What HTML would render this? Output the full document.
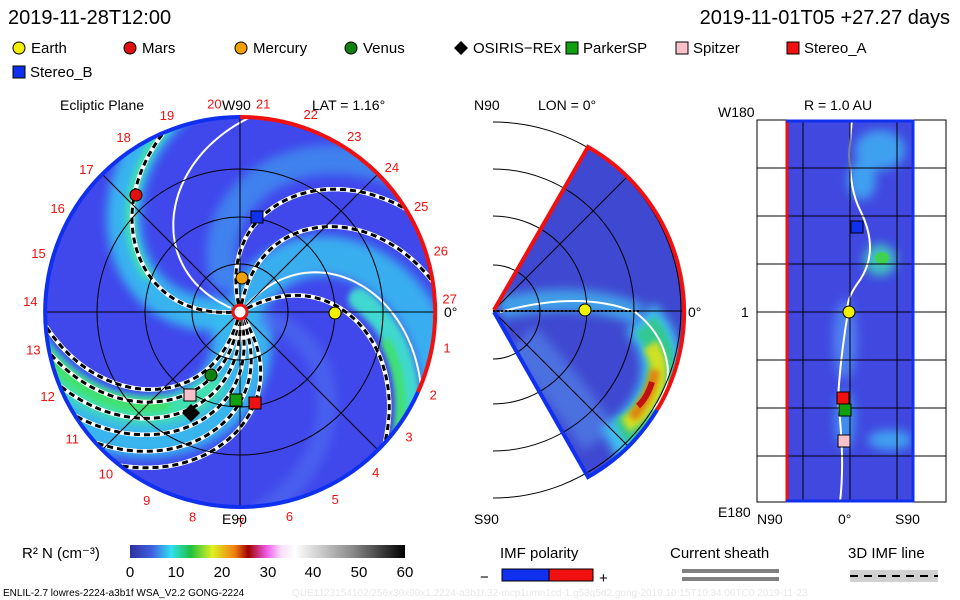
<!DOCTYPE html>
<html><head><meta charset="utf-8">
<style>
html,body{margin:0;padding:0;background:#fff;}
svg{display:block;font-family:"Liberation Sans",sans-serif;}
</style></head><body>
<svg id="s" width="960" height="600" viewBox="0 0 960 600" xmlns="http://www.w3.org/2000/svg">
<defs>
<clipPath id="cl"><circle cx="240" cy="312" r="195"/></clipPath>
<clipPath id="cw"><path d="M494,310 L588,147 A190,190 0 0 1 588,477 Z"/></clipPath>
<clipPath id="cr"><rect x="786" y="120" width="128" height="382"/></clipPath>
<filter id="bl" filterUnits="userSpaceOnUse" x="0" y="0" width="960" height="600"><feGaussianBlur stdDeviation="5"/></filter>
<filter id="bl2" filterUnits="userSpaceOnUse" x="0" y="0" width="960" height="600"><feGaussianBlur stdDeviation="3"/></filter>
<linearGradient id="cb" x1="0" x2="1">
<stop offset="0" stop-color="#3030a0"/><stop offset="0.08" stop-color="#4060e0"/><stop offset="0.15" stop-color="#30e0f0"/>
<stop offset="0.22" stop-color="#20c040"/><stop offset="0.3" stop-color="#e0f020"/><stop offset="0.38" stop-color="#f08010"/>
<stop offset="0.43" stop-color="#a00000"/><stop offset="0.5" stop-color="#f060f0"/><stop offset="0.55" stop-color="#f8e0f8"/>
<stop offset="0.6" stop-color="#ffffff"/><stop offset="0.8" stop-color="#909090"/><stop offset="1" stop-color="#000"/>
</linearGradient>
</defs>
<text x="8" y="24" font-size="20" fill="#000">2019-11-28T12:00</text>
<text x="950" y="24" font-size="20" text-anchor="end" fill="#000">2019-11-01T05 +27.27 days</text>
<g font-size="15">
<circle cx="19" cy="48" r="6" fill="#f0f000" stroke="#000"/><text x="31" y="53">Earth</text>
<circle cx="130" cy="48" r="6" fill="#e01010" stroke="#000"/><text x="142" y="53">Mars</text>
<circle cx="241" cy="48" r="6" fill="#f0a000" stroke="#000"/><text x="253" y="53">Mercury</text>
<circle cx="351" cy="48" r="6" fill="#108010" stroke="#000"/><text x="363" y="53">Venus</text>
<path d="M461,41 L468,48 L461,55 L454,48Z" fill="#000"/><text x="473" y="53">OSIRIS−REx</text>
<rect x="566" y="42" width="12" height="12" fill="#10a010" stroke="#000"/><text x="583" y="53">ParkerSP</text>
<rect x="676" y="42" width="12" height="12" fill="#f8c0c8" stroke="#000"/><text x="693" y="53">Spitzer</text>
<rect x="787" y="42" width="12" height="12" fill="#f01010" stroke="#000"/><text x="804" y="53">Stereo_A</text>
<rect x="13" y="66" width="12" height="12" fill="#1030f0" stroke="#000"/><text x="30" y="77">Stereo_B</text>
</g>
<!-- left panel -->
<g clip-path="url(#cl)">
<circle cx="240" cy="312" r="195" fill="#4048ec"/>
<g id="arms" fill="none" stroke-linecap="round"></g>
<g id="lines" fill="none"></g>
</g>
<g fill="none" stroke="#000" stroke-width="1">
<circle cx="240" cy="312" r="48"/><circle cx="240" cy="312" r="95"/><circle cx="240" cy="312" r="143"/>
<line x1="45" y1="312" x2="435" y2="312"/><line x1="240" y1="117" x2="240" y2="507"/>
<line x1="102" y1="174" x2="378" y2="450"/><line x1="102" y1="450" x2="378" y2="174"/>
</g>
<path d="M240,117 A195,195 0 0 1 418,392" fill="none" stroke="#f01010" stroke-width="4"/>
<path d="M418,392 A195,195 0 1 1 240,117" fill="none" stroke="#1030f0" stroke-width="4"/>
<g id="lnums" font-size="13" fill="#f01010"></g>
<text x="60" y="110" font-size="14">Ecliptic Plane</text>
<text x="222" y="110" font-size="14">W90</text>
<text x="312" y="110" font-size="14">LAT = 1.16°</text>
<text x="222" y="524" font-size="14">E90</text>
<text x="444" y="317" font-size="14">0°</text>
<circle cx="240" cy="312" r="7" fill="#fff" stroke="#f01010" stroke-width="3"/>
<circle cx="136" cy="195" r="6" fill="#e01010" stroke="#000"/>
<circle cx="242" cy="278" r="6" fill="#f0a000" stroke="#000"/>
<circle cx="335" cy="313" r="6" fill="#f0f000" stroke="#000"/>
<circle cx="211" cy="375" r="6" fill="#108010" stroke="#000"/>
<rect x="251" y="211" width="12" height="12" fill="#1030f0" stroke="#000"/>
<rect x="184" y="389" width="12" height="12" fill="#f8c0c8" stroke="#000"/>
<rect x="230" y="394" width="12" height="12" fill="#10a010" stroke="#000"/>
<rect x="249" y="397" width="12" height="12" fill="#f01010" stroke="#000"/>
<path d="M191,404 L200,413 L191,422 L182,413Z" fill="#000"/>
<!-- middle wedge -->
<g clip-path="url(#cw)">
<path d="M494,310 L588,147 A190,190 0 0 1 588,477 Z" fill="#3f48d0"/>
<path d="M500,308 Q580,290 640,315" fill="none" stroke="#40a0e8" stroke-width="22" filter="url(#bl)"/>
<path d="M520,340 Q560,380 600,440" fill="none" stroke="#4c70e0" stroke-width="40" filter="url(#bl)"/>
<path d="M640,318 Q668,345 660,385 Q648,425 610,445" fill="none" stroke="#40c0f0" stroke-width="40" filter="url(#bl)"/>
<path d="M645,325 Q668,350 658,388 Q645,420 620,432" fill="none" stroke="#30c890" stroke-width="26" filter="url(#bl2)"/>
<path d="M650,345 Q664,365 655,392 Q643,415 625,425" fill="none" stroke="#d0e020" stroke-width="16" filter="url(#bl2)"/>
<path d="M655,370 Q652,395 632,418" fill="none" stroke="#e08010" stroke-width="10" filter="url(#bl2)"/>
<path d="M652,382 Q647,398 638,406" fill="none" stroke="#c01010" stroke-width="6"/>
<path d="M500,312 Q580,290 635,312 Q665,335 668,370 Q668,395 652,410" fill="none" stroke="#fff" stroke-width="2"/>
</g>
<g fill="none" stroke="#000">
<path d="M493,265 A47,47 0 0 1 493,359"/>
<path d="M493,216 A94,94 0 0 1 493,404"/>
<path d="M493,169 A141,141 0 0 1 493,451"/>
<path d="M493,122 A188,188 0 0 1 493,498"/>
<line x1="493" y1="311" x2="683" y2="311"/>
<line x1="493" y1="311" x2="628" y2="176"/><line x1="493" y1="311" x2="628" y2="446"/>
</g>
<path d="M494,310 L588,147 A190,190 0 0 1 657,410" fill="none" stroke="#f01010" stroke-width="4"/>
<path d="M657,410 A190,190 0 0 1 588,477 L494,312" fill="none" stroke="#1030f0" stroke-width="4"/>
<line x1="493" y1="311" x2="640" y2="311" stroke="#000" stroke-dasharray="2,2" stroke-width="2"/>
<circle cx="585" cy="310" r="6" fill="#f0f000" stroke="#000"/>
<text x="474" y="110" font-size="14">N90</text>
<text x="538" y="110" font-size="14">LON = 0°</text>
<text x="474" y="524" font-size="14">S90</text>
<text x="688" y="317" font-size="14">0°</text>
<!-- right panel -->
<g clip-path="url(#cr)">
<rect x="786" y="120" width="128" height="382" fill="#4048e0"/>
<g filter="url(#bl)">
<ellipse cx="880" cy="150" rx="25" ry="20" fill="#40a0f0"/>
<ellipse cx="862" cy="180" rx="14" ry="20" fill="#40a0f0"/>
<ellipse cx="880" cy="260" rx="16" ry="16" fill="#40c0c0"/>
<ellipse cx="845" cy="340" rx="12" ry="40" fill="#5080f0"/>
<ellipse cx="890" cy="440" rx="22" ry="10" fill="#40a0f0"/>
<ellipse cx="845" cy="420" rx="10" ry="30" fill="#4090f0"/>
</g>
<ellipse cx="882" cy="258" rx="7" ry="6" fill="#40d050"/>
<path d="M852,120 Q845,180 860,210 Q880,250 860,280 Q845,300 848,312 Q840,360 838,400 Q845,460 840,502" fill="none" stroke="#fff" stroke-width="2"/>
</g>
<g stroke="#000" fill="none">
<rect x="757" y="120" width="189" height="382"/>
<line x1="757" y1="168" x2="946" y2="168"/><line x1="757" y1="216" x2="946" y2="216"/>
<line x1="757" y1="264" x2="946" y2="264"/><line x1="757" y1="312" x2="946" y2="312"/>
<line x1="757" y1="360" x2="946" y2="360"/><line x1="757" y1="408" x2="946" y2="408"/>
<line x1="757" y1="456" x2="946" y2="456"/>
<line x1="803" y1="120" x2="803" y2="502"/><line x1="850" y1="120" x2="850" y2="502"/><line x1="897" y1="120" x2="897" y2="502"/>
</g>
<line x1="787" y1="120" x2="787" y2="502" stroke="#f01010" stroke-width="3"/>
<line x1="913" y1="120" x2="913" y2="502" stroke="#1030f0" stroke-width="3"/>
<line x1="786" y1="121" x2="914" y2="121" stroke="#1030f0" stroke-width="3"/>
<line x1="786" y1="501" x2="914" y2="501" stroke="#1030f0" stroke-width="3"/>
<circle cx="849" cy="312" r="6" fill="#f0f000" stroke="#000"/>
<rect x="851" y="221" width="12" height="12" fill="#1030f0" stroke="#000"/>
<rect x="837" y="392" width="12" height="12" fill="#f01010" stroke="#000"/>
<rect x="839" y="404" width="12" height="12" fill="#10a010" stroke="#000"/>
<rect x="838" y="435" width="12" height="12" fill="#f8c0c8" stroke="#000"/>
<text x="804" y="110" font-size="14">R = 1.0 AU</text>
<text x="718" y="117" font-size="14">W180</text>
<text x="741" y="317" font-size="14">1</text>
<text x="718" y="517" font-size="14">E180</text>
<text x="757" y="524" font-size="14">N90</text>
<text x="838" y="524" font-size="14">0°</text>
<text x="895" y="524" font-size="14">S90</text>
<!-- bottom -->
<text x="22" y="558" font-size="15">R² N (cm⁻³)</text>
<rect x="130" y="545" width="275" height="13" fill="url(#cb)"/>
<g font-size="15" text-anchor="middle">
<text x="130" y="577">0</text><text x="176" y="577">10</text><text x="222" y="577">20</text>
<text x="268" y="577">30</text><text x="313" y="577">40</text><text x="359" y="577">50</text><text x="405" y="577">60</text>
</g>
<text x="500" y="558" font-size="15">IMF polarity</text>
<rect x="502" y="569" width="47" height="12" fill="#1030f0" stroke="#000"/>
<rect x="549" y="569" width="44" height="12" fill="#f01010" stroke="#000"/>
<text x="480" y="582" font-size="15">−</text><text x="599" y="583" font-size="15">+</text>
<text x="670" y="558" font-size="15">Current sheath</text>
<rect x="682" y="569" width="97" height="4" fill="#808080"/>
<rect x="682" y="577" width="97" height="4" fill="#808080"/>
<text x="848" y="558" font-size="15">3D IMF line</text>
<rect x="850" y="570" width="88" height="12" fill="#d0d0d0"/>
<line x1="850" y1="576" x2="938" y2="576" stroke="#000" stroke-width="2" stroke-dasharray="8,6"/>
<text x="3" y="596" font-size="10">ENLIL-2.7 lowres-2224-a3b1f WSA_V2.2 GONG-2224</text>
<text x="292" y="596" font-size="10" fill="#e8e8e8">QUE1123154102/256x30x90x1.2224-a3b1f.32-mcp1umn1cd-1.g53q5d2.gong-2019:10:15T10:34:00TC0   2019-11-23</text>
</svg>
<script>
(function(){
var NS="http://www.w3.org/2000/svg",cx=240,cy=312,R=195,A=70*Math.PI/180,D=Math.PI/180;
function sp(t0,r0,r1){t0*=D;var d="";for(var r=r0;r<=r1;r+=3){var t=t0+A*Math.pow(r/R,1.5);d+=(d?"L":"M")+(cx+r*Math.cos(t)).toFixed(1)+","+(cy+r*Math.sin(t)).toFixed(1);}return d;}
function add(gid,d,c,w,da,op,f){var p=document.createElementNS(NS,"path");p.setAttribute("d",d);p.setAttribute("stroke",c);p.setAttribute("stroke-width",w);if(da)p.setAttribute("stroke-dasharray",da);if(op)p.setAttribute("opacity",op);if(f)p.setAttribute("filter",f);document.getElementById(gid).appendChild(p);}
add("arms",sp(-60,20,240),"#38c0f0",40,null,0.85,"url(#bl)");
add("arms",sp(-40,120,240),"#40d8d0",22,null,1,"url(#bl2)");
add("arms",sp(-35,150,240),"#40e070",10,null,1,"url(#bl2)");
add("arms",sp(-120,40,240),"#40a8f0",30,null,0.6,"url(#bl)");
add("arms",sp(172,20,240),"#38c0f0",34,null,0.9,"url(#bl)");
add("arms",sp(176,100,240),"#40e0b0",10,null,1,"url(#bl2)");
add("arms",sp(82,20,240),"#38c0f0",60,null,0.9,"url(#bl)");
add("arms",sp(92,80,240),"#40e0b0",26,null,1,"url(#bl)");
add("arms",sp(96,120,240),"#40e070",14,null,1,"url(#bl2)");
add("arms",sp(10,30,240),"#5070f0",20,null,0.6,"url(#bl)");
add("lines",sp(-157,10,230),"#fff",2);
add("lines",sp(-48,10,230),"#fff",2);
[-102,-79,-28,177,58,68,78,88,98,106].forEach(function(t){add("lines",sp(t,8,240),"#fff",4.5);add("lines",sp(t,8,240),"#000",3,"6,4");});
var g=document.getElementById("lnums");
for(var i=1;i<28;i++){var a=(-97+(i-20)*13.33)*D;var x=cx+210*Math.cos(a),y=cy+210*Math.sin(a)+5;
var t=document.createElementNS(NS,"text");t.setAttribute("x",x.toFixed(1));t.setAttribute("y",y.toFixed(1));t.setAttribute("text-anchor","middle");t.textContent=i;g.appendChild(t);}
})();
</script>
</body></html>
